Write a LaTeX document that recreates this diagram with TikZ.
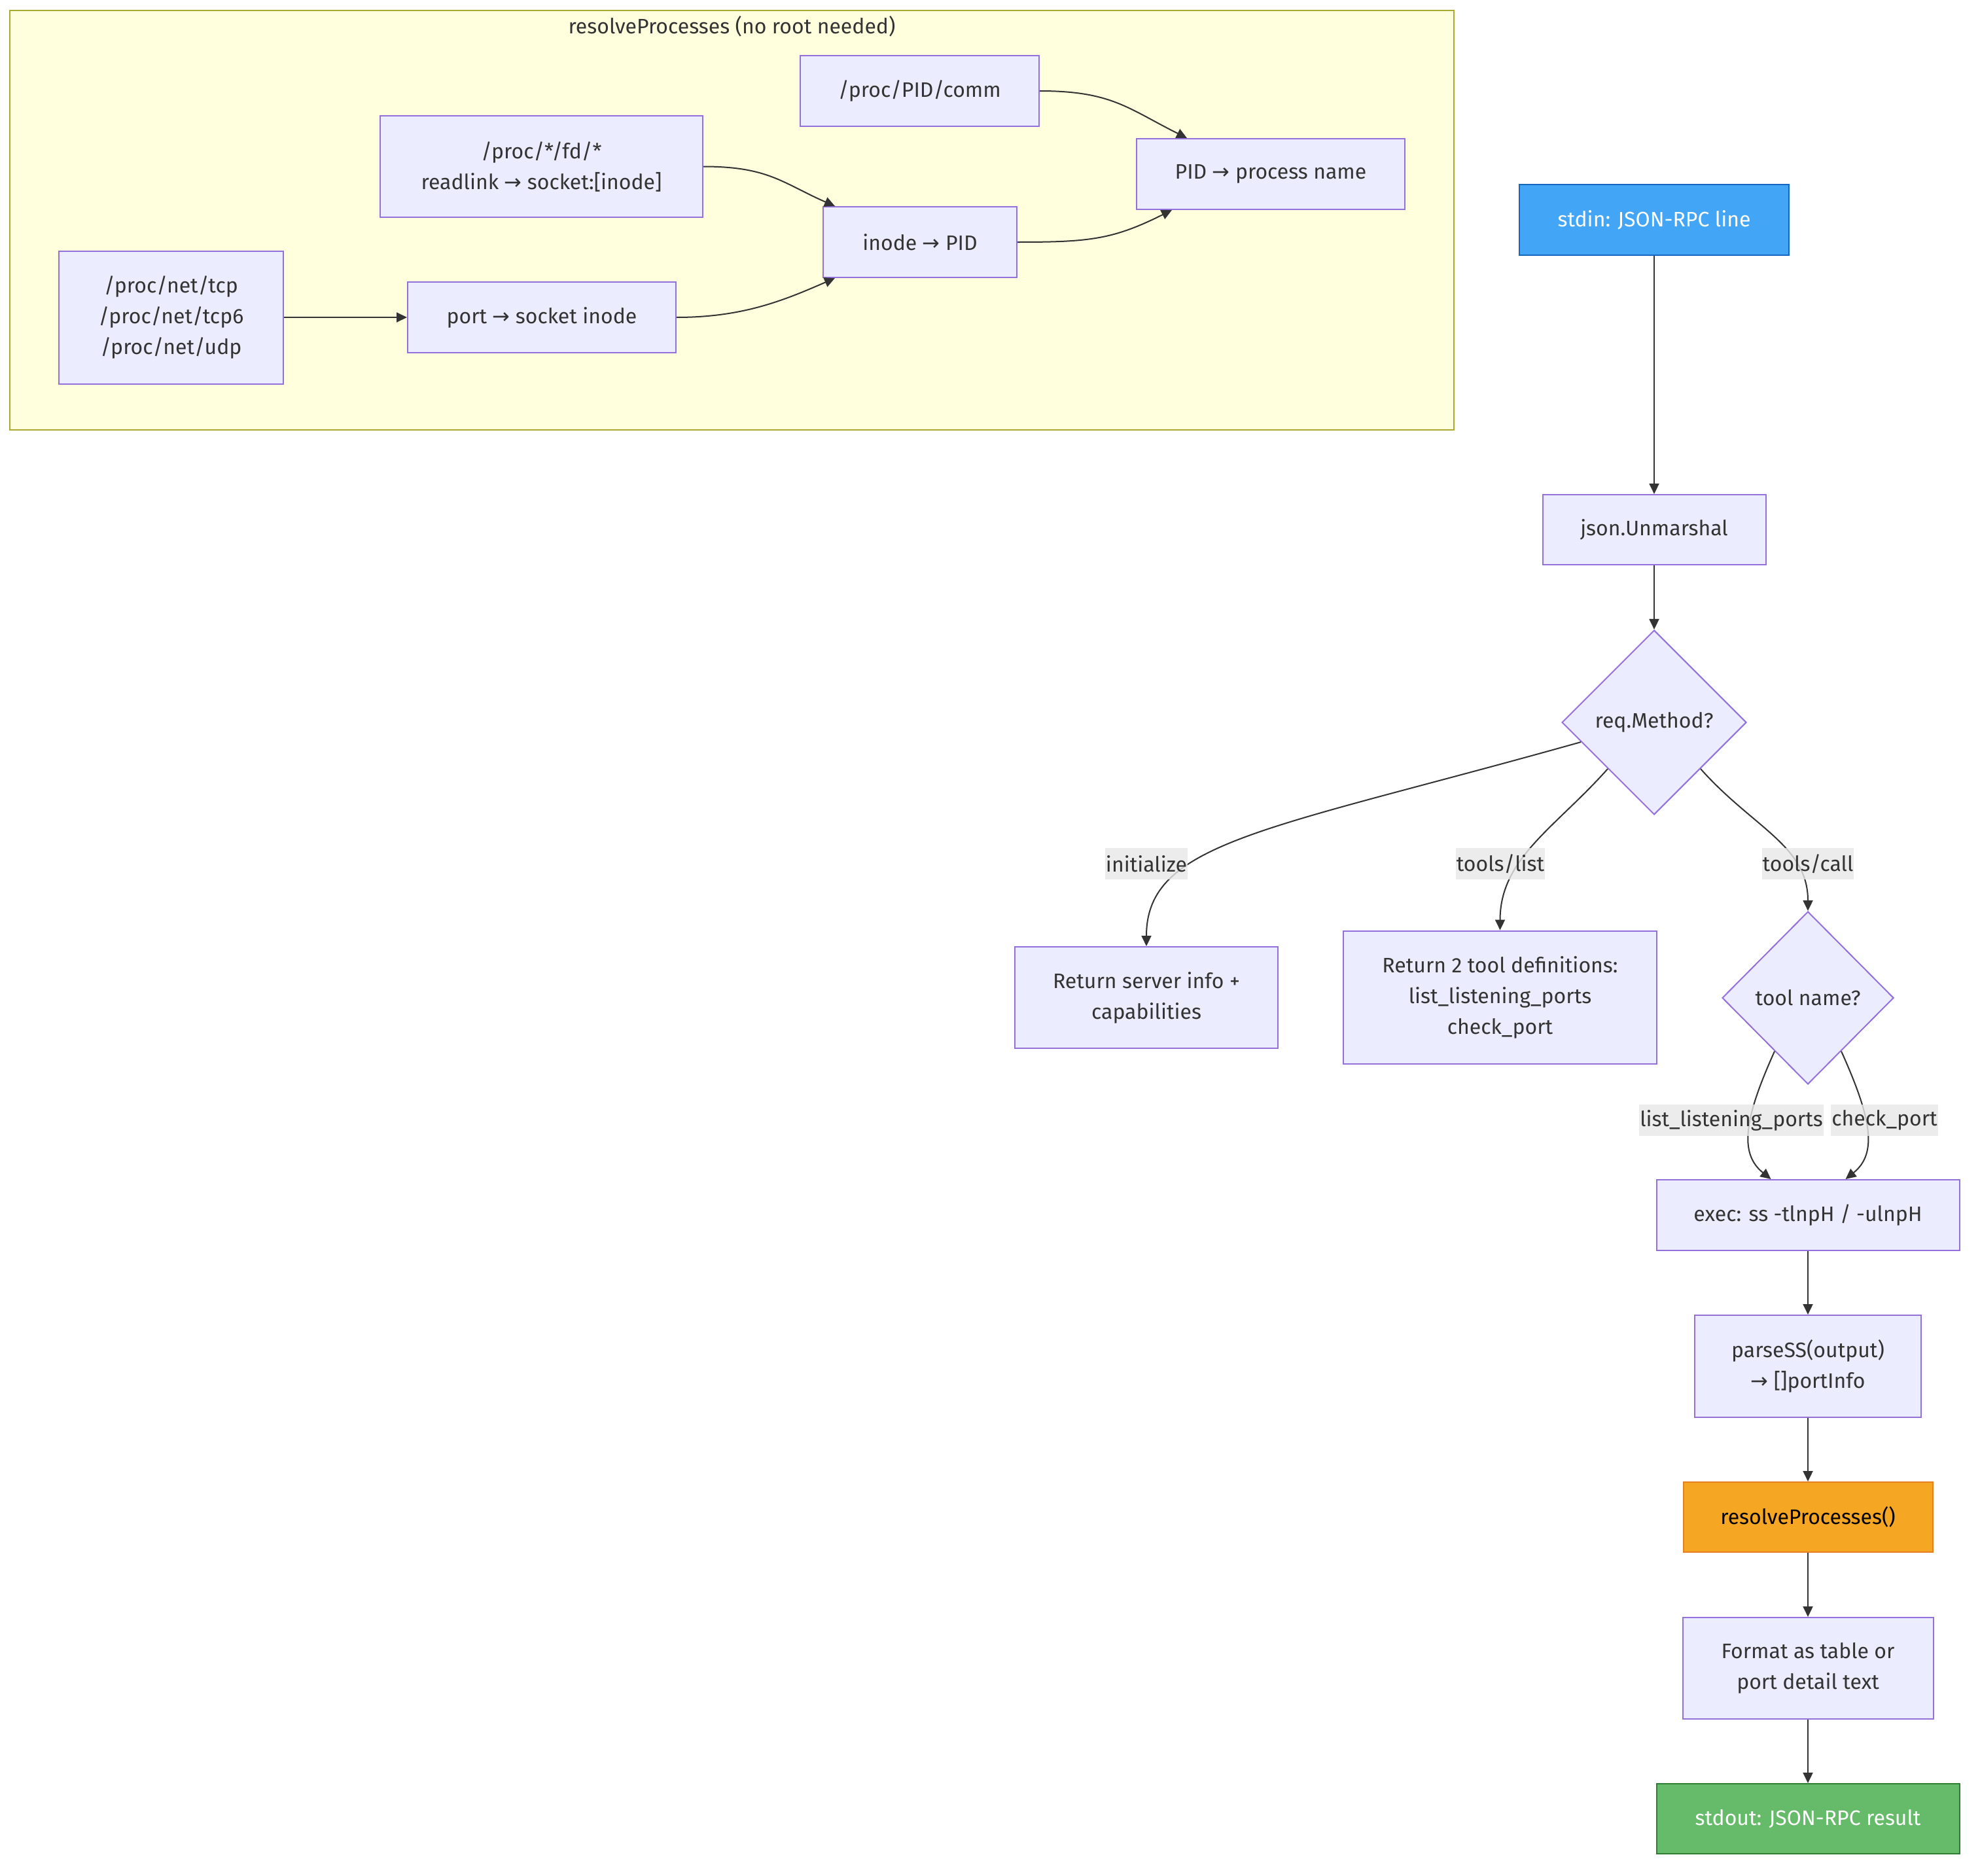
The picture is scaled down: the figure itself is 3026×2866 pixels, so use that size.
\documentclass[tikz,border=0pt]{standalone}
\usepackage{fontspec}
\setmainfont{Fira Sans}
\newfontfamily\arrowfont{DejaVu Sans}
\usetikzlibrary{shapes.geometric,arrows.meta,calc}
\definecolor{nodefill}{HTML}{ECECFF}
\definecolor{nodestroke}{HTML}{9370DB}
\definecolor{clusterfill}{HTML}{FFFFDE}
\definecolor{clusterstroke}{HTML}{AAAA33}
\definecolor{txt}{HTML}{333333}
\definecolor{edgecol}{HTML}{333333}
\definecolor{lblbg}{HTML}{E8E8E8}
\definecolor{bluefill}{HTML}{42A5F5}
\definecolor{bluestroke}{HTML}{1565C0}
\definecolor{orangefill}{HTML}{F5A623}
\definecolor{orangestroke}{HTML}{E67E22}
\definecolor{greenfill}{HTML}{66BB6A}
\definecolor{greenstroke}{HTML}{2E7D32}
\newcommand{\myarr}{{\arrowfont →}}
\begin{document}
\begin{tikzpicture}[x=1pt,y=-1pt,
  every node/.style={font=\fontsize{32}{47}\selectfont, text=txt},
  box/.style={draw=nodestroke, fill=nodefill, line width=2pt, align=center, inner sep=0pt},
  dia/.style={diamond, draw=nodestroke, fill=nodefill, line width=2pt, inner sep=0pt, aspect=1},
  edge/.style={draw=edgecol, line width=2pt, -{Triangle[length=16pt,width=15pt]}},
  lbl/.style={fill=lblbg, fill opacity=0.8, text opacity=1, inner xsep=1pt, inner ysep=0pt, minimum height=48pt},
]
\useasboundingbox (0,0) rectangle (3026,2866);
\fill[white] (0,0) rectangle (3026,2866);

% cluster
\node[draw=clusterstroke, fill=clusterfill, line width=2pt, minimum width=2207pt, minimum height=641pt, inner sep=0pt] (cl) at (1118.5,336.5) {};
\node (cltitle) at (1118.5,40) {resolveProcesses (no root needed)};

% cluster nodes
\node[box, minimum width=343pt, minimum height=203pt] (net) at (261.5,485) {/proc/net/tcp\\/proc/net/tcp6\\/proc/net/udp};
\node[box, minimum width=410pt, minimum height=108pt] (port) at (828,485) {port \myarr{} socket inode};
\node[box, minimum width=493pt, minimum height=155pt] (readlink) at (827.5,254.5) {/proc/*/fd/*\\readlink \myarr{} socket:[inode]};
\node[box, minimum width=365pt, minimum height=108pt] (comm) at (1405.5,139) {/proc/PID/comm};
\node[box, minimum width=296pt, minimum height=108pt] (inode) at (1406,370) {inode \myarr{} PID};
\node[box, minimum width=410pt, minimum height=108pt] (procname) at (1942,266) {PID \myarr{} process name};

% main flow nodes
\node[box, draw=bluestroke, fill=bluefill, text=white, minimum width=412pt, minimum height=108pt] (stdin) at (2528,336) {stdin: JSON-RPC line};
\node[box, minimum width=341pt, minimum height=107pt] (json) at (2528,809.5) {json.Unmarshal};
\node[dia, minimum width=282pt, minimum height=282pt] (req) at (2528,1104) {req.Method?};
\node[box, minimum width=402pt, minimum height=155pt] (init) at (1752,1524.5) {Return server info +\\capabilities};
\node[box, minimum width=479pt, minimum height=203pt] (tlist) at (2292.5,1524) {Return 2 tool definitions:\\list\_listening\_ports\\check\_port};
\node[dia, minimum width=262pt, minimum height=264pt] (tname) at (2763,1525) {tool name?};
\node[box, minimum width=463pt, minimum height=108pt] (exec) at (2763,1857) {exec: ss -tlnpH / -ulnpH};
\node[box, minimum width=346pt, minimum height=156pt] (parse) at (2763,2088) {parseSS(output)\\\myarr{} []portInfo};
\node[box, draw=orangestroke, fill=orangefill, text=black, minimum width=381pt, minimum height=107pt] (resolve) at (2763,2318.5) {resolveProcesses()};
\node[box, minimum width=383pt, minimum height=155pt] (format) at (2763,2549.5) {Format as table or\\port detail text};
\node[box, draw=greenstroke, fill=greenfill, text=white, minimum width=463pt, minimum height=107pt] (stdout) at (2763,2779.5) {stdout: JSON-RPC result};

% cluster edges
\draw[edge] (net.east) -- (port.west);
\draw[edge] (port.east) .. controls +(100,0) and +(-80,35) .. ($(inode.south west)+(19,0)$);
\draw[edge] (readlink.east) .. controls +(100,0) and +(-80,-35) .. ($(inode.north west)+(19,0)$);
\draw[edge] (comm.east) .. controls +(110,0) and +(-90,-45) .. ($(procname.north west)+(78,0)$);
\draw[edge] (inode.east) .. controls +(110,0) and +(-90,45) .. ($(procname.south west)+(55,0)$);

% main edges
\draw[edge] (stdin) -- (json);
\draw[edge] (json) -- (req);
\draw[edge] (req.195) .. controls +(-480,135) and +(0,-160) .. (init.north);
\draw[edge] (req.south west) .. controls +(-80,90) and +(0,-110) .. (tlist.north);
\draw[edge] (req.south east) .. controls +(80,90) and +(0,-100) .. (tname.north);
\draw[edge] (tname.238) .. controls +(-45,100) and +(-50,-40) .. ($(exec.north west)+(176,0)$);
\draw[edge] (tname.302) .. controls +(45,100) and +(50,-40) .. ($(exec.north west)+(290,0)$);
\draw[edge] (exec) -- (parse);
\draw[edge] (parse) -- (resolve);
\draw[edge] (resolve) -- (format);
\draw[edge] (format) -- (stdout);

% edge labels
\node[lbl] (l1) at (1752,1320) {initialize};
\node[lbl] (l2) at (2293,1320) {tools/list};
\node[lbl] (l3) at (2763,1320) {tools/call};
\node[lbl] (l4) at (2646,1712) {list\_listening\_ports};
\node[lbl] (l5) at (2880,1712) {check\_port};
\end{tikzpicture}
\end{document}
